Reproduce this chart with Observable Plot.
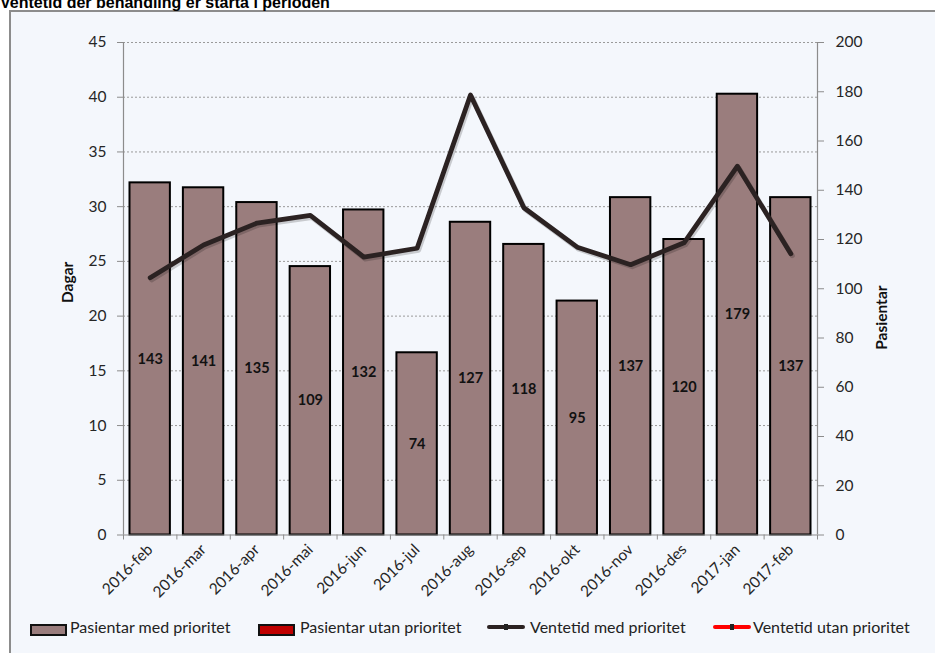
<!DOCTYPE html>
<html>
<head>
<meta charset="utf-8">
<script src="https://cdn.jsdelivr.net/npm/d3@7"></script>
<script src="https://cdn.jsdelivr.net/npm/@observablehq/plot@0.6"></script>
<style>
  body { margin:0; background:#fff; width:935px; height:653px; overflow:hidden; position:relative; font-family: Lato, "Open Sans", sans-serif; }
  #title { position:absolute; left:0; top:-5px; font: bold 16px "Liberation Sans", Arial, sans-serif; line-height:16px; color:#000; white-space:nowrap; z-index:2; }
  #frame { position:absolute; left:9px; top:10px; width:940px; height:660px; border:2px solid #8c8c8c; background:#F4F7FC; }
  #chart { position:absolute; left:0; top:0; }
  .lg { position:absolute; top:618px; font: 16px Lato, sans-serif; color:#222; white-space:nowrap; line-height:18px; }
  .sw { position:absolute; }
</style>
</head>
<body>
<div id="frame"></div>
<div id="title">Ventetid der behandling er starta i perioden</div>
<div id="chart"></div>
<div id="legend"></div>
<script>
const months = ["2016-feb","2016-mar","2016-apr","2016-mai","2016-jun","2016-jul","2016-aug","2016-sep","2016-okt","2016-nov","2016-des","2017-jan","2017-feb"];
const pasientarMedPrioritet = [143,141,135,109,132,74,127,118,95,137,120,179,137];
const ventetidMedPrioritet = [23.5,26.5,28.5,29.2,25.4,26.2,40.2,29.9,26.3,24.7,26.7,33.7,25.7];
const dagarTicks = [0,5,10,15,20,25,30,35,40,45];
const pasientarTicks = [0,20,40,60,80,100,120,140,160,180,200];
const legendLabels = ["Pasientar med prioritet","Pasientar utan prioritet","Ventetid med prioritet","Ventetid utan prioritet"];

const k = 45 / 200; // patients -> days scale factor (right axis)
const rows = months.map((m, i) => ({i, month: m, pat: pasientarMedPrioritet[i], days: ventetidMedPrioritet[i]}));
const idx = months.map((_, i) => i);
const bounds = d3.range(-0.5, months.length, 1);

const axisColor = "#8c8c8c";
const textColor = "#262626";

const plot = Plot.plot({
  width: 935,
  height: 610,
  marginLeft: 123,
  marginRight: 118,
  marginTop: 42,
  marginBottom: 75.5,
  style: {background: "transparent", fontFamily: "Lato, 'Open Sans', sans-serif"},
  x: {type: "linear", domain: [-0.5, months.length - 0.5], axis: null},
  y: {domain: [0, 45], axis: null},
  marks: [
    Plot.gridY(dagarTicks.filter(d => d > 0), {stroke: "#9a9a9a", strokeOpacity: 1, strokeDasharray: "2,2"}),
    Plot.rectY(rows, {x1: d => d.i - 0.5, x2: d => d.i + 0.5, y1: 0, y2: d => d.pat * k, insetLeft: 6.5, insetRight: 6.5, fill: "#9A7D7D", stroke: "#000", strokeWidth: 2}),
    Plot.ruleY([0], {stroke: axisColor, strokeWidth: 1.2}),
    Plot.ruleX([-0.5, months.length - 0.5], {stroke: axisColor, strokeWidth: 1.2}),
    Plot.text(rows, {x: "i", y: d => d.pat * k / 2, text: d => String(d.pat), fontWeight: "bold", fontSize: 14.5, fill: "#111"}),
    Plot.line(rows, {x: "i", y: "days", stroke: "rgba(0,0,0,0.18)", strokeWidth: 5, strokeLinejoin: "round", dx: 1.5, dy: 2}),
    Plot.line(rows, {x: "i", y: "days", stroke: "#2b2222", strokeWidth: 4.8, strokeLinejoin: "round", strokeLinecap: "round"}),
    Plot.axisY(dagarTicks, {anchor: "left", tickSize: 6, tickPadding: 11, fontSize: 15.5, stroke: axisColor, color: textColor, label: null}),
    Plot.axisY(pasientarTicks.map(p => p * k), {anchor: "right", tickSize: 6, tickPadding: 12, fontSize: 15.5, stroke: axisColor, color: textColor, tickFormat: d => String(Math.round(d / k)), label: null}),
    Plot.axisX(bounds, {anchor: "bottom", tickSize: 5, tickFormat: () => "", stroke: axisColor, label: null}),
    Plot.axisX(idx, {anchor: "bottom", tickSize: 0, tickPadding: 12, tickRotate: -45, fontSize: 15.5, color: textColor, tickFormat: i => months[i], label: null}),
    Plot.text(["Dagar"], {frameAnchor: "left", y: [21.2], dx: -55, rotate: -90, fontWeight: "bold", fontSize: 15.5, fill: "#111"}),
    Plot.text(["Pasientar"], {frameAnchor: "right", y: [22.8], dx: 65, rotate: -90, fontWeight: "bold", fontSize: 15.5, fill: "#111"})
  ]
});
document.getElementById("chart").appendChild(plot);

// legend
const lg = document.getElementById("legend");
const sw = [
  {x: 30, kind: "box", fill: "#9A7D7D"},
  {x: 258, kind: "box", fill: "#C00000"},
  {x: 487, kind: "line", color: "#2b2222"},
  {x: 713, kind: "line", color: "#FF0000"}
];
const tx = [70, 300, 530, 753];
legendLabels.forEach((lab, i) => {
  const s = sw[i];
  const el = document.createElement("div");
  el.className = "sw";
  if (s.kind === "box") {
    Object.assign(el.style, {left: s.x + "px", top: "624px", width: "33px", height: "8px", background: s.fill, border: "2px solid #111"});
  } else {
    Object.assign(el.style, {left: s.x + "px", top: "625px", width: "38px", height: "4px", background: s.color, borderRadius: "2px"});
    const m = document.createElement("div");
    Object.assign(m.style, {position: "absolute", left: "17px", top: "-1px", width: "4px", height: "6px", background: "#222"});
    el.appendChild(m);
  }
  lg.appendChild(el);
  const t = document.createElement("div");
  t.className = "lg";
  t.style.left = tx[i] + "px";
  t.textContent = lab;
  lg.appendChild(t);
});
</script>
</body>
</html>
